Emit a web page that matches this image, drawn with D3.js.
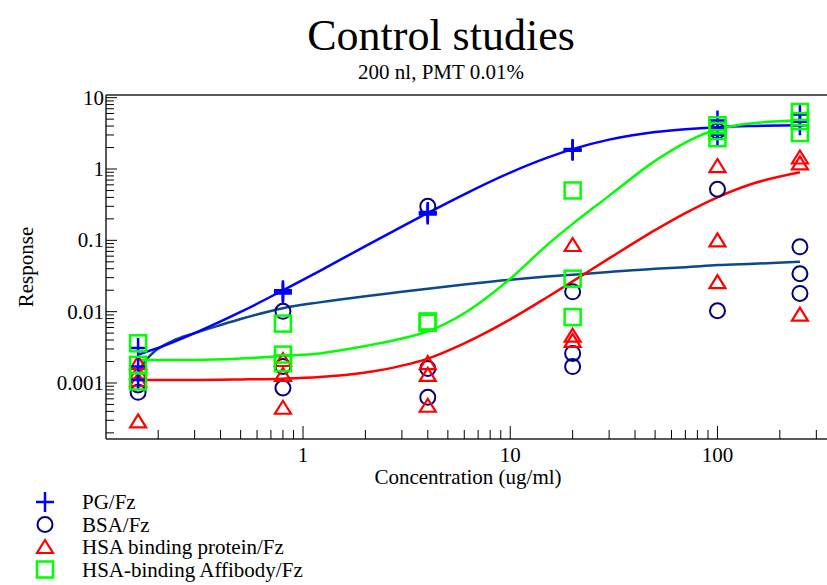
<!DOCTYPE html>
<html>
<head>
<meta charset="utf-8">
<script src="https://cdn.jsdelivr.net/npm/d3@7"></script>
<style>
  body { margin: 0; background: #fff; }
  svg text { font-family: "Liberation Serif", "Times New Roman", serif; fill: #000; }
</style>
</head>
<body>
<div id="chart"></div>
<script>
// concentrations (ug/ml) of the measured points
let conc = [0.16, 0.8, 4, 20, 100, 250];

// replicate responses at each concentration
let pgFz = [[0.0031, 0.0017, 0.0011], [0.020, 0.019, 0.018], [0.25, 0.24, 0.23], [1.9, 1.85, 1.8], [4.8, 3.8, 3.0], [5.8, 4.6, 4.1]];
let bsaFz = [[0.00094, 0.00074], [0.0101, 0.0017, 0.00085], [0.30, 0.0016, 0.00063], [0.019, 0.0026, 0.0017], [3.4, 0.52, 0.0103], [0.081, 0.034, 0.018]];
let hsaProtFz = [[0.0019, 0.0014, 0.0011, 0.00029], [0.0021, 0.0013, 0.00045], [0.0019, 0.0013, 0.00048], [0.086, 0.0046, 0.0039], [1.1, 0.10, 0.026], [1.45, 1.2, 0.0091]];
let affiFz = [[0.0036, 0.0018, 0.00105], [0.0068, 0.0025, 0.0019], [0.0073, 0.0071, 0.0070], [0.50, 0.029, 0.0084], [4.1, 3.4, 2.7], [6.3, 4.7, 3.2]];

// fitted curves
let fitX = [0.16, 0.2, 0.3, 0.5, 0.8, 1.2, 2, 3, 4, 6, 10, 15, 20, 30, 50, 70, 100, 150, 250];
let pgFit = [0.0025, 0.0031, 0.0050, 0.0099, 0.0199, 0.037, 0.083, 0.156, 0.242, 0.442, 0.89, 1.43, 1.90, 2.58, 3.30, 3.62, 3.86, 4.01, 4.12];
let hsaProtFit = [0.0011, 0.0011, 0.0011, 0.00112, 0.00115, 0.00121, 0.0014, 0.00175, 0.0022, 0.0036, 0.0078, 0.0158, 0.0266, 0.0558, 0.139, 0.241, 0.401, 0.63, 0.90];
let affiFit = [0.0021, 0.0021, 0.0021, 0.0022, 0.0024, 0.0026, 0.0033, 0.0042, 0.0053, 0.0095, 0.029, 0.085, 0.17, 0.42, 1.3, 2.35, 3.6, 4.4, 4.8];
let bsaFitX = [0.16, 0.165, 0.175, 0.19, 0.21, 0.235, 0.3, 0.4, 0.5, 0.8, 1.2, 2, 3, 4, 6, 10, 15, 20, 30, 50, 70, 100, 150, 250];
let bsaFit = [0.0012, 0.0016, 0.0021, 0.0027, 0.0033, 0.0039, 0.0050, 0.0065, 0.0079, 0.0112, 0.0135, 0.0165, 0.019, 0.021, 0.024, 0.028, 0.031, 0.033, 0.036, 0.040, 0.042, 0.045, 0.047, 0.050];

let xTicks = [1, 10, 100];
let yTicks = [0.001, 0.01, 0.1, 1, 10];
let legendLabels = ["PG/Fz", "BSA/Fz", "HSA binding protein/Fz", "HSA-binding Affibody/Fz"];

const width = 827, height = 585;
const plotLeft = 106, plotRight = 826, plotTop = 95, plotBottom = 439;

const svg = d3.select('#chart').append('svg').attr('width', width).attr('height', height);

const x = d3.scaleLog().domain([0.112, 334]).range([plotLeft, plotRight]);
const y = d3.scaleLog().domain([0.000164, 10.9]).range([plotBottom, plotTop]);

// title
svg.append('text').attr('x', 441).attr('y', 50).attr('text-anchor', 'middle')
    .style('font-size', '44px').text('Control studies');
svg.append('text').attr('x', 441).attr('y', 79).attr('text-anchor', 'middle')
    .style('font-size', '21px').text('200 nl, PMT 0.01%');

// frame lines
svg.append('line').attr('x1', plotLeft).attr('x2', 827).attr('y1', plotTop).attr('y2', plotTop)
    .attr('stroke', '#222').attr('stroke-width', 1.5);
svg.append('line').attr('x1', plotLeft).attr('x2', plotLeft).attr('y1', plotTop).attr('y2', plotBottom)
    .attr('stroke', '#222').attr('stroke-width', 1.5);
svg.append('line').attr('x1', plotLeft).attr('x2', 827).attr('y1', plotBottom).attr('y2', plotBottom)
    .attr('stroke', '#222').attr('stroke-width', 1.5);

// minor + major ticks, pointing into the plot
function minorTicks(lo, hi) {
    let out = [];
    for (let e = lo; e <= hi; e++) {
        for (let m = 1; m <= 9; m++) out.push(m * Math.pow(10, e));
    }
    return out;
}
function isMajor(d, list) {
    return list.some(t => Math.abs(t - d) / t < 1e-6);
}
let xAll = minorTicks(-1, 2).filter(v => v >= 0.112 && v <= 334);
svg.append('g').selectAll('line').data(xAll).enter().append('line')
    .attr('x1', d => x(d)).attr('x2', d => x(d))
    .attr('y1', plotBottom)
    .attr('y2', d => isMajor(d, xTicks) ? plotBottom - 13 : plotBottom - 9)
    .attr('stroke', '#000').attr('stroke-width', 1);
let yAll = minorTicks(-4, 1).filter(v => v >= 0.000164 && v <= 10.9);
svg.append('g').selectAll('line').data(yAll).enter().append('line')
    .attr('y1', d => y(d)).attr('y2', d => y(d))
    .attr('x1', plotLeft)
    .attr('x2', d => isMajor(d, yTicks) ? plotLeft + 11 : plotLeft + 8)
    .attr('stroke', '#000').attr('stroke-width', 1);

// tick labels
svg.append('g').selectAll('text').data(xTicks).enter().append('text')
    .attr('x', d => x(d)).attr('y', plotBottom + 23).attr('text-anchor', 'middle')
    .style('font-size', '21px').text(d => d);
svg.append('g').selectAll('text').data(yTicks).enter().append('text')
    .attr('x', plotLeft - 2).attr('y', d => y(d) + 7).attr('text-anchor', 'end')
    .style('font-size', '21px').text(d => d);

// axis titles
svg.append('text').attr('x', 468).attr('y', 484).attr('text-anchor', 'middle')
    .style('font-size', '21px').text('Concentration (ug/ml)');
svg.append('text').attr('transform', 'translate(33,267) rotate(-90)').attr('text-anchor', 'middle')
    .style('font-size', '21px').text('Response');

// fitted curves
function drawCurve(xs, ys, color) {
    const line = d3.line().x(d => x(d[0])).y(d => y(d[1])).curve(d3.curveMonotoneX);
    svg.append('path').datum(xs.map((v, i) => [v, ys[i]]))
        .attr('d', line).attr('fill', 'none')
        .attr('stroke', color).attr('stroke-width', 2.5);
}
drawCurve(bsaFitX, bsaFit, '#0a4a8a');
drawCurve(fitX, pgFit, '#0000ff');
drawCurve(fitX, hsaProtFit, '#ff0000');
drawCurve(fitX, affiFit, '#00ff00');

// marker shapes
function marker(g, kind, cx, cy) {
    if (kind === 'plus') {
        g.append('path').attr('d', `M${cx - 9},${cy}H${cx + 9}M${cx},${cy - 10}V${cy + 10}`)
            .attr('stroke', '#0000ff').attr('stroke-width', 2.5).attr('fill', 'none');
    } else if (kind === 'circle') {
        g.append('circle').attr('cx', cx).attr('cy', cy).attr('r', 7.5)
            .attr('stroke', '#000080').attr('stroke-width', 2).attr('fill', 'none');
    } else if (kind === 'triangle') {
        g.append('path').attr('d', `M${cx},${cy - 7}L${cx + 8},${cy + 6}L${cx - 8},${cy + 6}Z`)
            .attr('stroke', '#ff0000').attr('stroke-width', 2.2).attr('fill', 'none');
    } else {
        g.append('rect').attr('x', cx - 8).attr('y', cy - 8).attr('width', 16).attr('height', 16)
            .attr('stroke', '#00ff00').attr('stroke-width', 2.5).attr('fill', 'none');
    }
}

function drawPoints(series, kind) {
    const g = svg.append('g');
    series.forEach((vals, i) => {
        vals.forEach(v => marker(g, kind, x(conc[i]), y(v)));
    });
}
drawPoints(bsaFz, 'circle');
drawPoints(hsaProtFz, 'triangle');
drawPoints(pgFz, 'plus');
drawPoints(affiFz, 'square');

// legend
let kinds = ['plus', 'circle', 'triangle', 'square'];
const lg = svg.append('g');
legendLabels.forEach((label, i) => {
    let cy = 502 + i * 22.5;
    marker(lg, kinds[i], 45, cy);
    lg.append('text').attr('x', 82).attr('y', cy + 7).style('font-size', '21px').text(label);
});
</script>
</body>
</html>
